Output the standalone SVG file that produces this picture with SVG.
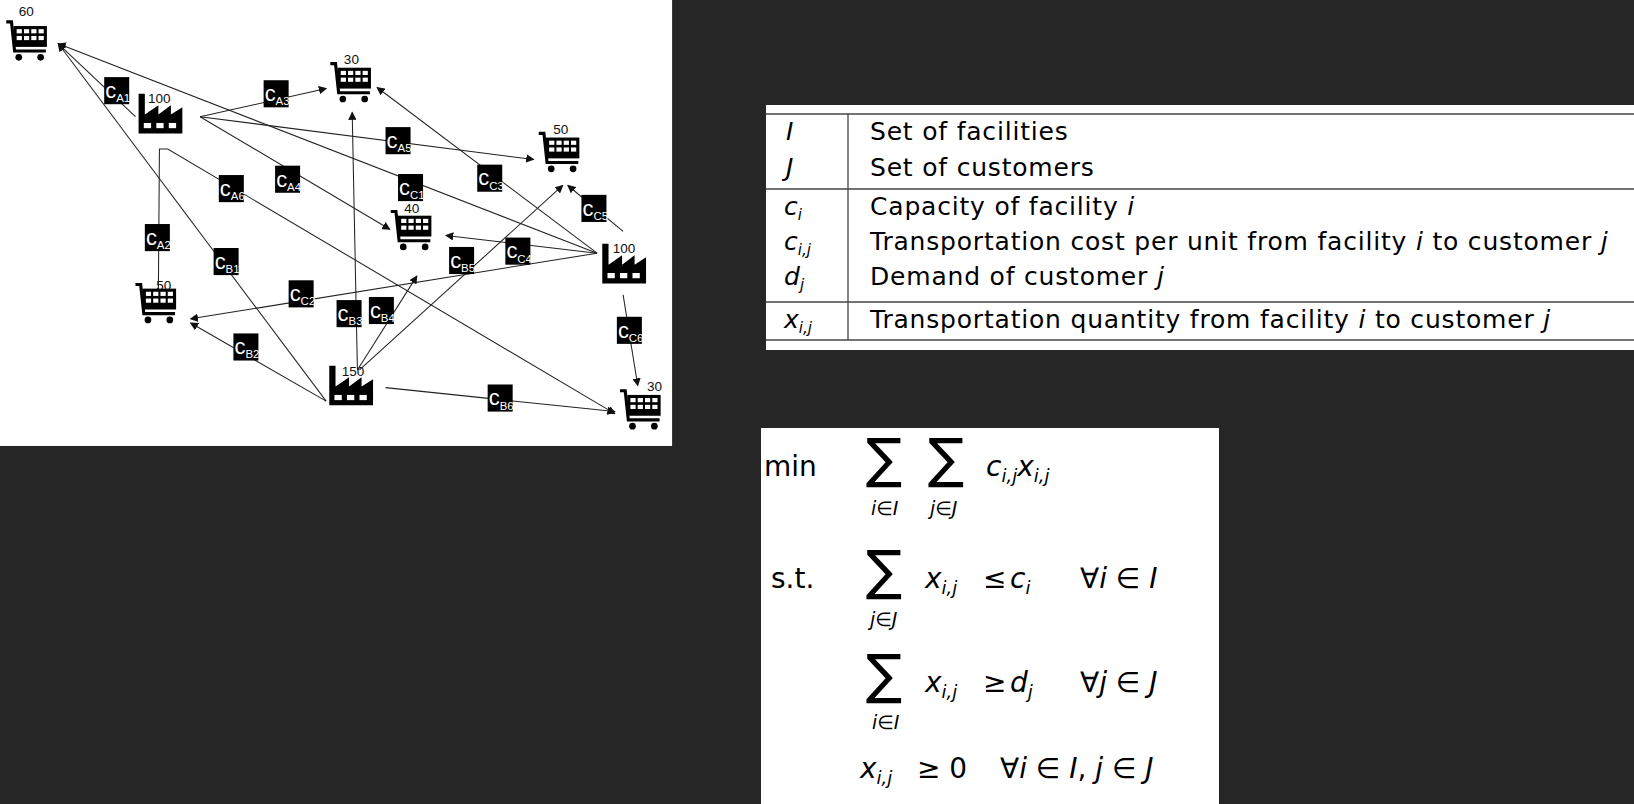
<svg xmlns="http://www.w3.org/2000/svg" width="1634" height="804" viewBox="0 0 1634 804">
<style>
.ln{stroke:#222;stroke-width:1;fill:none}
.num{font-family:"Liberation Sans",Arial,sans-serif;font-size:13px;fill:#111}
.cl{font-family:"Liberation Sans",Arial,sans-serif;font-size:21px;fill:#fff}
.cs{font-size:11px}
.tx{font-family:"DejaVu Sans","Liberation Sans",sans-serif;font-size:25px;letter-spacing:0.8px;fill:#000}
.tl{font-family:"DejaVu Sans","Liberation Sans",sans-serif;font-size:25px;fill:#000;font-style:italic}
.it{font-style:italic}
.mx{font-family:"DejaVu Sans","Liberation Sans",sans-serif;font-size:28px;fill:#000}
.sg{font-family:"DejaVu Sans",sans-serif;font-size:54px;fill:#000}
.sb{font-family:"DejaVu Sans",sans-serif;font-size:19px;fill:#000;font-style:italic}
</style>
<defs>
<marker id="ar" markerWidth="8" markerHeight="8" refX="7" refY="4" orient="auto" markerUnits="userSpaceOnUse"><path d="M0,0 L8,4 L0,8 Z" fill="#111"/></marker>
<g id="cart">
<path d="M0,3 H5 L8,31 H38" stroke="#000" stroke-width="3" fill="none"/>
<rect x="7" y="7" width="32" height="20" fill="#000"/>
<g fill="#fff"><rect x="10" y="10" width="5" height="4"/><rect x="17" y="10" width="5" height="4"/><rect x="24" y="10" width="5" height="4"/><rect x="31" y="10" width="5" height="4"/>
<rect x="10" y="16.5" width="5" height="4"/><rect x="17" y="16.5" width="5" height="4"/><rect x="24" y="16.5" width="5" height="4"/><rect x="31" y="16.5" width="5" height="4"/></g>
<circle cx="12" cy="37" r="3.2" fill="#000"/><circle cx="33" cy="37" r="3.2" fill="#000"/>
</g>
<g id="fac">
<path d="M0,40 V2 H6 V22 L19,13 V22 L31,13 V22 L42,15 V40 Z" fill="#000"/>
<g fill="#fff"><rect x="5" y="30" width="7" height="5"/><rect x="17" y="30" width="7" height="5"/><rect x="29" y="30" width="7" height="5"/></g>
</g>
</defs>
<rect width="1634" height="804" fill="#262626"/>
<g id="network" transform="scale(1.042)">
<rect x="0" y="0" width="645" height="428" fill="#fff"/>
<g id="connectors" marker-end="url(#ar)">
<line class="ln" x1="130" y1="112" x2="56" y2="42"/>
<line class="ln" x1="192" y1="112" x2="313" y2="85"/>
<line class="ln" x1="192" y1="112" x2="512" y2="153"/>
<line class="ln" x1="192" y1="112" x2="374" y2="220"/>
<polyline class="ln" points="152,280 153,143 161,143 590,397"/>
<line class="ln" x1="573" y1="243" x2="56" y2="42"/>
<line class="ln" x1="313" y1="385" x2="56" y2="42"/>
<line class="ln" x1="573" y1="243" x2="362" y2="84"/>
<line class="ln" x1="598" y1="222" x2="545" y2="178"/>
<line class="ln" x1="345" y1="355" x2="540" y2="178"/>
<line class="ln" x1="573" y1="243" x2="428" y2="226"/>
<line class="ln" x1="573" y1="243" x2="183" y2="306"/>
<line class="ln" x1="343" y1="355" x2="338" y2="108"/>
<line class="ln" x1="343" y1="355" x2="400" y2="265"/>
<line class="ln" x1="313" y1="385" x2="183" y2="310"/>
<line class="ln" x1="370" y1="372" x2="590" y2="395"/>
<line class="ln" x1="598" y1="283" x2="612" y2="370"/>
</g>
<g id="cust60"><use href="#cart" x="6" y="18"/><text class="num" x="18" y="15">60</text></g>
<g id="cust30a"><use href="#cart" x="317" y="58"/><text class="num" x="330" y="61">30</text></g>
<g id="cust50a"><use href="#cart" x="517" y="125"/><text class="num" x="531" y="129">50</text></g>
<g id="cust40"><use href="#cart" x="375" y="200"/><text class="num" x="388" y="204">40</text></g>
<g id="cust50b"><use href="#cart" x="130" y="270"/><text class="num" x="150" y="278">50</text></g>
<g id="cust30b"><use href="#cart" x="595" y="372"/><text class="num" x="621" y="375">30</text></g>
<g id="facA"><use href="#fac" x="133" y="88"/><text class="num" x="142" y="99">100</text></g>
<g id="facC"><use href="#fac" x="578" y="232"/><text class="num" x="588" y="243">100</text></g>
<g id="facB"><use href="#fac" x="316" y="349"/><text class="num" x="328" y="361">150</text></g>
<g id="costs">
<g><rect x="100" y="74" width="24" height="26"/><text class="cl" x="101" y="94">c<tspan class="cs" dy="4">A1</tspan></text></g>
<g><rect x="253" y="77" width="24" height="26"/><text class="cl" x="254" y="97">c<tspan class="cs" dy="4">A3</tspan></text></g>
<g><rect x="370" y="122" width="24" height="26"/><text class="cl" x="371" y="142">c<tspan class="cs" dy="4">A5</tspan></text></g>
<g><rect x="264" y="159" width="24" height="26"/><text class="cl" x="265" y="179">c<tspan class="cs" dy="4">A4</tspan></text></g>
<g><rect x="210" y="168" width="24" height="26"/><text class="cl" x="211" y="188">c<tspan class="cs" dy="4">A6</tspan></text></g>
<g><rect x="139" y="215" width="24" height="26"/><text class="cl" x="140" y="235">c<tspan class="cs" dy="4">A2</tspan></text></g>
<g><rect x="382" y="167" width="24" height="26"/><text class="cl" x="383" y="187">c<tspan class="cs" dy="4">C1</tspan></text></g>
<g><rect x="458" y="158" width="24" height="26"/><text class="cl" x="459" y="178">c<tspan class="cs" dy="4">C3</tspan></text></g>
<g><rect x="558" y="187" width="24" height="26"/><text class="cl" x="559" y="207">c<tspan class="cs" dy="4">C5</tspan></text></g>
<g><rect x="205" y="238" width="24" height="26"/><text class="cl" x="206" y="258">c<tspan class="cs" dy="4">B1</tspan></text></g>
<g><rect x="431" y="237" width="24" height="26"/><text class="cl" x="432" y="257">c<tspan class="cs" dy="4">B5</tspan></text></g>
<g><rect x="485" y="228" width="24" height="26"/><text class="cl" x="486" y="248">c<tspan class="cs" dy="4">C4</tspan></text></g>
<g><rect x="277" y="269" width="24" height="26"/><text class="cl" x="278" y="289">c<tspan class="cs" dy="4">C2</tspan></text></g>
<g><rect x="323" y="288" width="24" height="26"/><text class="cl" x="324" y="308">c<tspan class="cs" dy="4">B3</tspan></text></g>
<g><rect x="354" y="285" width="24" height="26"/><text class="cl" x="355" y="305">c<tspan class="cs" dy="4">B4</tspan></text></g>
<g><rect x="224" y="320" width="24" height="26"/><text class="cl" x="225" y="340">c<tspan class="cs" dy="4">B2</tspan></text></g>
<g><rect x="468" y="369" width="24" height="26"/><text class="cl" x="469" y="389">c<tspan class="cs" dy="4">B6</tspan></text></g>
<g><rect x="592" y="304" width="24" height="26"/><text class="cl" x="593" y="324">c<tspan class="cs" dy="4">C6</tspan></text></g>
</g>
</g>
<g id="table">
<rect x="766" y="105" width="868" height="245" fill="#fff"/>
<g stroke="#444" stroke-width="1.3">
<line x1="766" y1="114" x2="1634" y2="114"/>
<line x1="766" y1="189" x2="1634" y2="189"/>
<line x1="766" y1="302" x2="1634" y2="302"/>
<line x1="766" y1="340" x2="1634" y2="340"/>
<line x1="848" y1="114" x2="848" y2="340"/>
</g>
<text class="tl" x="786" y="140">I</text><text class="tx" x="870" y="140">Set of facilities</text>
<text class="tl" x="786" y="176">J</text><text class="tx" x="870" y="176">Set of customers</text>
<text class="tl" x="784" y="215">c<tspan font-size="15" dy="5">i</tspan></text><text class="tx" x="870" y="215">Capacity of facility <tspan class="it">i</tspan></text>
<text class="tl" x="784" y="250">c<tspan font-size="15" dy="5">i,j</tspan></text><text class="tx" x="870" y="250">Transportation cost per unit from facility <tspan class="it">i</tspan> to customer <tspan class="it">j</tspan></text>
<text class="tl" x="784" y="285">d<tspan font-size="15" dy="5">j</tspan></text><text class="tx" x="870" y="285">Demand of customer <tspan class="it">j</tspan></text>
<text class="tl" x="784" y="328">x<tspan font-size="15" dy="5">i,j</tspan></text><text class="tx" x="870" y="328">Transportation quantity from facility <tspan class="it">i</tspan> to customer <tspan class="it">j</tspan></text>
</g>
<g id="formula">
<rect x="761" y="428" width="458" height="376" fill="#fff"/>
<text class="mx" x="764" y="476">min</text>
<text class="sg" x="866" y="477">∑</text><text class="sg" x="928" y="477">∑</text>
<text class="mx it" x="986" y="476">c<tspan font-size="18" dy="6">i,j</tspan><tspan dy="-6">x</tspan><tspan font-size="18" dy="6">i,j</tspan></text>
<text class="sb" x="871" y="515">i∈I</text><text class="sb" x="930" y="515">j∈J</text>
<text class="mx" x="771" y="588">s.t.</text>
<text class="sg" x="866" y="589">∑</text>
<text class="mx it" x="925" y="588">x<tspan font-size="18" dy="6">i,j</tspan></text>
<text class="mx" x="983" y="588">≤</text>
<text class="mx it" x="1010" y="588">c<tspan font-size="18" dy="6">i</tspan></text>
<text class="mx" x="1080" y="588">∀<tspan class="it">i</tspan> ∈ <tspan class="it">I</tspan></text>
<text class="sb" x="870" y="626">j∈J</text>
<text class="sg" x="866" y="693">∑</text>
<text class="mx it" x="925" y="692">x<tspan font-size="18" dy="6">i,j</tspan></text>
<text class="mx" x="983" y="692">≥</text>
<text class="mx it" x="1010" y="692">d<tspan font-size="18" dy="6">j</tspan></text>
<text class="mx" x="1080" y="692">∀<tspan class="it">j</tspan> ∈ <tspan class="it">J</tspan></text>
<text class="sb" x="872" y="729">i∈I</text>
<text class="mx it" x="860" y="778">x<tspan font-size="18" dy="6">i,j</tspan></text>
<text class="mx" x="917" y="778">≥ 0</text>
<text class="mx" x="1000" y="778">∀<tspan class="it">i</tspan> ∈ <tspan class="it">I</tspan>, <tspan class="it">j</tspan> ∈ <tspan class="it">J</tspan></text>
</g>
</svg>
